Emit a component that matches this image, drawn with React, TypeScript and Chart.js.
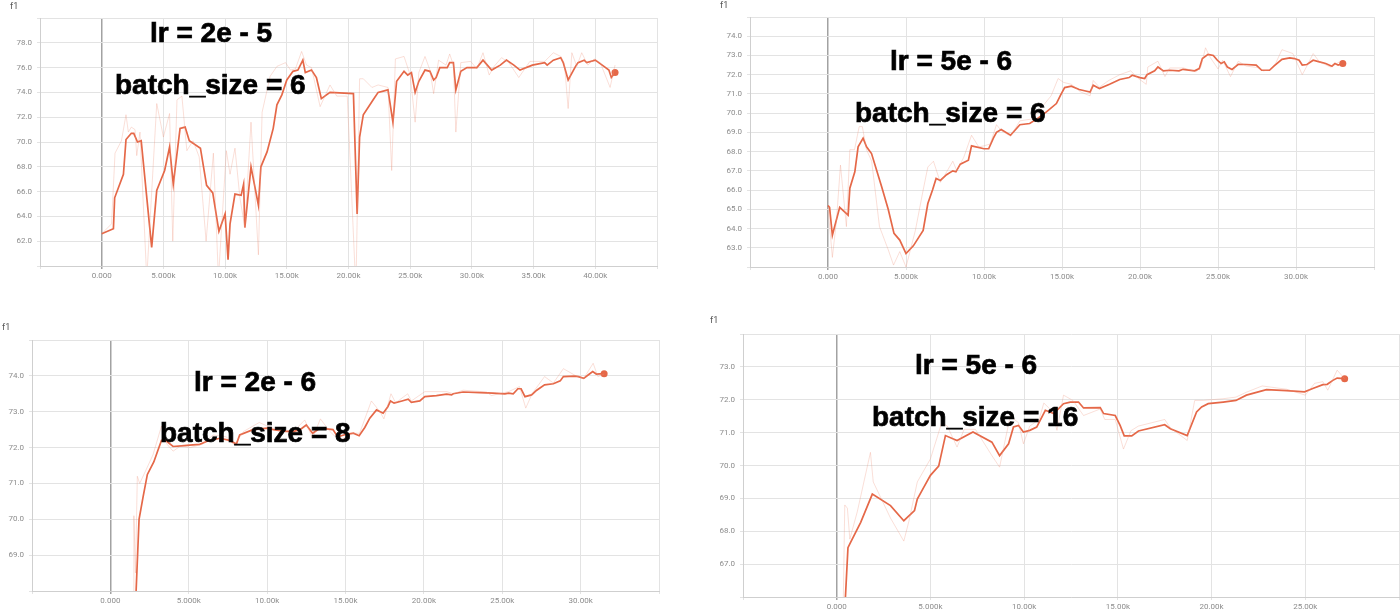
import React, { useEffect, useRef } from 'react';
import { Chart, registerables } from 'chart.js';

Chart.register(...registerables);

// ---------- data (x in thousands of steps, y = f1) ----------
// Top-left: lr = 2e-5, batch_size = 6
const tlSmoothX = [0, 0.95, 1.05, 1.76, 1.97, 2.4, 2.6, 2.9, 3.2, 4.05, 4.46, 5.1, 5.5, 5.8, 6.35, 6.76, 7.1, 8.0, 8.5, 9.0, 9.5, 10.0, 10.24, 10.4, 10.8, 11.3, 11.5, 11.6, 12.1, 12.7, 12.9, 13.4, 13.9, 14.2, 14.6, 15.0, 15.5, 15.9, 16.3, 16.5, 17.0, 17.4, 17.8, 18.5, 20.4, 20.7, 20.9, 21.2, 22.0, 22.4, 23.2, 23.6, 23.9, 24.5, 24.8, 25.1, 25.4, 25.7, 26.2, 26.6, 26.9, 27.1, 27.4, 28.0, 28.2, 28.5, 28.7, 29.1, 29.6, 30.4, 30.9, 31.6, 32.3, 32.8, 33.4, 33.9, 34.9, 35.9, 36.1, 36.6, 37.2, 37.4, 37.8, 38.4, 38.6, 39.1, 39.3, 40.0, 40.7, 41.1, 41.3, 41.6];
const tlSmoothY = [62.6, 63.0, 65.5, 67.4, 70.2, 70.7, 70.7, 70.0, 70.1, 61.5, 66.1, 67.7, 69.6, 66.6, 71.1, 71.2, 70.1, 69.5, 66.5, 65.9, 62.8, 64.2, 60.5, 63.4, 65.8, 65.7, 66.6, 63.1, 68.0, 64.9, 68.0, 69.2, 71.1, 73.0, 73.8, 75.0, 75.7, 75.8, 76.6, 75.6, 75.8, 75.2, 73.5, 74.0, 73.9, 64.2, 70.4, 72.2, 73.4, 74.0, 74.2, 71.6, 74.9, 75.7, 75.4, 75.6, 74.0, 74.9, 75.8, 75.7, 75.0, 75.2, 76.0, 76.0, 76.4, 76.4, 74.2, 75.7, 76.0, 76.0, 76.6, 75.8, 76.2, 76.6, 76.2, 75.8, 76.2, 76.4, 76.2, 76.6, 76.8, 76.4, 75.0, 76.1, 76.4, 76.6, 76.4, 76.6, 76.1, 75.8, 75.2, 75.6];
const tlRawX = [0, 0.8, 1.08, 1.6, 1.97, 2.16, 2.4, 2.7, 2.84, 3.1, 3.65, 4.46, 5.0, 5.5, 5.76, 6.1, 6.5, 6.9, 7.4, 7.9, 8.46, 9.05, 9.46, 10.1, 10.4, 10.8, 11.2, 11.6, 12.1, 12.7, 13.0, 13.65, 14.2, 14.9, 15.3, 15.7, 16.2, 16.6, 17.0, 17.7, 18.5, 19.05, 19.9, 20.6, 20.9, 21.2, 21.9, 22.4, 23.2, 23.5, 23.8, 24.5, 25.0, 25.4, 25.7, 26.2, 26.6, 26.9, 27.3, 27.9, 28.2, 28.5, 28.7, 29.1, 29.9, 30.4, 30.9, 31.4, 31.8, 32.4, 33.0, 33.8, 34.7, 35.9, 36.6, 37.2, 37.5, 37.8, 38.1, 38.5, 38.9, 39.4, 39.9, 40.4, 41.2, 41.6];
const tlRawY = [62.6, 63.4, 69.1, 70.1, 72.2, 70.8, 71.2, 71.0, 68.9, 70.8, 59.0, 73.1, 70.4, 72.3, 62.0, 73.4, 73.7, 69.3, 70.1, 68.8, 62.0, 69.1, 59.0, 69.3, 67.4, 69.5, 65.5, 63.1, 71.6, 60.9, 72.4, 75.3, 76.1, 76.4, 75.8, 75.9, 77.3, 76.2, 76.0, 72.85, 74.6, 73.7, 73.7, 58.0, 75.1, 75.1, 74.4, 74.6, 74.4, 67.7, 76.7, 76.9, 75.4, 71.6, 75.6, 76.9, 75.8, 73.9, 76.6, 76.2, 77.1, 76.2, 70.8, 76.4, 76.5, 75.9, 77.2, 75.4, 76.1, 76.8, 76.4, 75.2, 76.5, 76.5, 77.2, 76.9, 76.3, 72.7, 77.2, 76.1, 77.2, 76.2, 76.7, 76.4, 74.4, 76.2];

// Top-right: lr = 5e-6, batch_size = 6
const trSmoothX = [0, 0.1, 0.28, 0.75, 1.29, 1.4, 1.72, 1.93, 2.25, 2.47, 2.79, 3.43, 3.86, 4.23, 4.6, 5.0, 5.47, 6.1, 6.4, 6.7, 6.93, 7.2, 7.6, 8.0, 8.2, 8.48, 9.0, 9.2, 10.0, 10.3, 10.6, 10.8, 11.1, 11.7, 12.3, 12.93, 13.4, 14.0, 14.64, 14.9, 15.17, 15.6, 16.1, 16.8, 17.0, 17.4, 18.05, 18.7, 19.3, 19.5, 20.0, 20.3, 20.45, 20.94, 21.15, 21.5, 21.9, 22.5, 22.76, 23.5, 23.8, 24.0, 24.36, 24.7, 24.96, 25.2, 25.4, 25.6, 25.9, 26.3, 26.8, 27.45, 27.8, 28.3, 28.6, 29.1, 29.6, 29.9, 30.2, 30.4, 30.7, 31.1, 31.5, 31.9, 32.3, 32.5, 32.7, 33.0];
const trSmoothY = [65.2, 65.1, 63.65, 65.1, 64.7, 66.1, 66.95, 68.25, 68.7, 68.25, 67.9, 66.2, 65.0, 63.75, 63.4, 62.7, 63.1, 63.9, 65.3, 66.0, 66.6, 66.5, 66.8, 67.0, 66.95, 67.35, 67.55, 68.3, 68.15, 68.15, 68.7, 69.0, 69.15, 68.85, 69.4, 69.46, 69.7, 70.07, 70.5, 70.93, 71.33, 71.4, 71.23, 71.1, 71.45, 71.28, 71.5, 71.75, 71.85, 71.97, 71.85, 71.8, 72.0, 72.2, 72.4, 72.2, 72.23, 72.2, 72.28, 72.2, 72.32, 72.84, 73.06, 73.0, 72.75, 72.58, 72.67, 72.4, 72.27, 72.54, 72.53, 72.5, 72.23, 72.23, 72.46, 72.8, 72.87, 72.84, 72.75, 72.5, 72.53, 72.75, 72.67, 72.58, 72.44, 72.58, 72.5, 72.58];
const trRawX = [0, 0.28, 0.54, 0.8, 1.18, 1.4, 1.7, 2.0, 2.2, 2.47, 2.8, 3.3, 3.86, 4.2, 4.6, 5.0, 5.6, 6.1, 6.4, 6.76, 7.2, 7.5, 8.0, 8.26, 8.7, 9.2, 9.66, 10.0, 10.4, 10.8, 11.1, 11.7, 12.3, 13.1, 14.3, 14.75, 15.1, 15.6, 16.2, 16.8, 17.0, 17.4, 18.0, 18.7, 19.4, 19.9, 20.4, 20.5, 21.15, 21.6, 21.9, 22.8, 23.6, 23.9, 24.2, 24.5, 25.0, 25.3, 25.8, 26.3, 26.8, 27.7, 27.9, 28.3, 28.7, 29.1, 29.8, 30.4, 30.7, 31.1, 31.5, 32.2, 32.8];
const trRawY = [65.1, 62.5, 64.4, 67.3, 64.1, 68.1, 68.1, 69.3, 69.3, 68.1, 67.5, 64.1, 62.9, 62.1, 62.8, 62.0, 63.9, 66.0, 67.2, 67.5, 66.4, 66.8, 67.5, 67.0, 67.7, 68.85, 68.25, 68.3, 68.4, 69.4, 69.1, 68.8, 69.6, 69.7, 70.9, 71.8, 71.6, 71.5, 71.1, 70.9, 71.7, 71.35, 71.7, 72.0, 72.2, 71.8, 71.5, 72.4, 72.7, 71.9, 72.35, 72.35, 72.15, 72.4, 73.4, 72.9, 72.3, 72.75, 71.9, 72.7, 72.45, 72.35, 72.2, 72.25, 72.6, 73.3, 73.1, 72.0, 72.45, 73.1, 72.67, 72.4, 72.67];

// Bottom-left: lr = 2e-6, batch_size = 8
const blSmoothX = [1.5, 1.83, 2.09, 2.36, 2.77, 3.04, 3.26, 3.57, 4.0, 4.53, 5.06, 5.7, 6.13, 6.98, 7.6, 8.04, 8.25, 9.1, 10.0, 10.4, 11.2, 11.7, 12.1, 12.5, 12.9, 13.36, 14.2, 14.5, 15.06, 15.5, 15.87, 16.23, 16.55, 16.98, 17.4, 17.7, 17.87, 18.1, 18.6, 19.0, 19.2, 19.74, 20.06, 20.8, 21.45, 21.77, 21.87, 22.5, 23.57, 24.4, 25.17, 25.4, 25.7, 26.0, 26.2, 26.45, 26.87, 27.2, 27.7, 28.26, 28.7, 28.9, 29.64, 29.85, 30.2, 30.5, 30.77, 31.0, 31.5];
const blSmoothY = [66.5, 70.0, 70.63, 71.25, 71.6, 71.93, 72.2, 72.18, 72.03, 72.05, 72.07, 72.09, 72.17, 72.26, 72.2, 72.1, 72.35, 72.5, 72.54, 72.5, 72.45, 72.45, 72.5, 72.63, 72.4, 72.54, 72.5, 72.3, 72.37, 72.4, 72.33, 72.56, 72.82, 73.05, 72.96, 73.14, 73.3, 73.24, 73.3, 73.35, 73.26, 73.3, 73.42, 73.45, 73.49, 73.47, 73.5, 73.55, 73.53, 73.52, 73.5, 73.52, 73.5, 73.64, 73.64, 73.42, 73.47, 73.6, 73.75, 73.78, 73.86, 73.98, 73.99, 73.98, 73.93, 74.03, 74.12, 74.05, 74.06];
const blRawX = [1.45, 1.5, 1.6, 1.72, 1.87, 2.3, 2.72, 3.26, 3.6, 4.0, 4.5, 5.1, 5.9, 6.55, 7.4, 7.9, 8.5, 9.5, 10.0, 11.0, 11.8, 12.4, 12.9, 13.4, 14.0, 14.6, 15.5, 15.9, 16.65, 17.2, 17.45, 17.9, 18.2, 18.97, 19.2, 20.06, 21.45, 21.9, 22.5, 24.0, 24.3, 25.4, 26.1, 26.5, 26.9, 27.7, 28.26, 28.9, 29.7, 30.2, 30.8, 31.1, 31.5];
const blRawY = [66.0, 70.1, 68.5, 71.2, 71.0, 71.4, 71.8, 72.6, 72.1, 71.9, 72.05, 72.0, 72.1, 72.35, 72.3, 72.07, 72.45, 72.7, 72.6, 72.45, 72.5, 72.77, 72.26, 72.8, 72.45, 72.2, 72.4, 72.4, 73.3, 73.0, 72.8, 73.5, 73.25, 73.5, 73.3, 73.56, 73.56, 73.5, 73.6, 73.55, 73.45, 73.56, 73.7, 73.1, 73.5, 73.98, 73.8, 74.2, 74.0, 73.93, 74.35, 73.98, 74.05];

// Bottom-right: lr = 5e-6, batch_size = 16
const brSmoothX = [0.42, 0.6, 0.74, 1.28, 1.9, 2.87, 3.58, 4.15, 4.3, 4.65, 5.0, 5.44, 5.8, 6.42, 7.27, 8.28, 8.69, 9.17, 9.43, 9.7, 9.96, 10.3, 10.67, 11.13, 11.58, 12.1, 12.46, 12.9, 13.17, 14.06, 14.24, 14.86, 15.12, 15.34, 15.74, 16.1, 17.5, 17.8, 18.7, 19.2, 19.47, 19.82, 20.62, 21.3, 21.86, 22.93, 24.0, 24.96, 25.4, 25.94, 26.17, 26.47, 26.7, 27.1];
const brSmoothY = [65.5, 67.5, 67.66, 68.27, 69.13, 68.78, 68.32, 68.63, 68.98, 69.34, 69.7, 69.98, 70.91, 70.76, 71.02, 70.71, 70.3, 70.66, 71.17, 71.22, 71.02, 71.07, 71.17, 71.68, 71.58, 71.88, 71.93, 71.93, 71.75, 71.76, 71.58, 71.52, 71.22, 70.9, 70.9, 71.05, 71.24, 71.12, 70.91, 71.63, 71.78, 71.88, 71.93, 71.98, 72.14, 72.31, 72.28, 72.24, 72.34, 72.46, 72.47, 72.59, 72.66, 72.64];
const brRawX = [0.3, 0.43, 0.57, 0.7, 1.1, 1.8, 1.95, 2.87, 3.58, 3.85, 4.3, 5.0, 5.6, 5.9, 6.42, 6.8, 7.4, 8.28, 8.69, 9.0, 9.26, 9.7, 9.96, 10.3, 10.8, 11.05, 11.5, 11.75, 12.1, 12.6, 13.17, 14.06, 14.3, 14.86, 15.3, 15.7, 16.1, 17.5, 17.8, 18.7, 19.1, 19.55, 20.6, 21.3, 21.86, 22.7, 24.0, 25.0, 25.5, 25.94, 26.2, 26.7, 27.1];
const brRawY = [64.0, 68.8, 68.7, 67.76, 68.6, 70.4, 69.5, 68.4, 67.7, 68.3, 69.5, 70.2, 71.3, 71.2, 70.56, 71.1, 71.1, 70.3, 69.95, 70.8, 71.5, 71.3, 70.66, 71.2, 71.4, 71.9, 71.65, 71.07, 72.14, 71.98, 71.52, 71.72, 71.4, 71.4, 70.5, 71.06, 71.2, 71.4, 71.15, 70.76, 71.98, 71.98, 72.03, 72.08, 72.23, 72.42, 72.32, 72.14, 72.5, 72.55, 72.29, 72.9, 72.64];

// annotation labels
const lrLabels = ['lr = 2e - 5', 'lr = 5e - 6', 'lr = 2e - 6', 'lr = 5e - 6'];
const batchLabels = ['batch_size = 6', 'batch_size = 6', 'batch_size = 8', 'batch_size = 16'];
const yTitle = 'f1';

// ---------- styling ----------
const SMOOTH_COLOR = 'rgb(229, 104, 72)';
const RAW_COLOR = 'rgba(240, 150, 125, 0.3)';
const GRID_COLOR = '#e3e3e3';
const ZERO_COLOR = '#a2a2a2';
const TICK_FONT = { family: 'Roboto, "Liberation Sans", Arial, sans-serif', size: 8 };

function fmtStep(v: number): string {
  if (v === 0) return '0.000';
  return v < 10 ? v.toFixed(3) + 'k' : v.toFixed(2) + 'k';
}

type Rect = { L: number; T: number; R: number; B: number };

type PanelProps = {
  plot: Rect;
  xMax: number;
  yMin: number;
  yMax: number;
  yStep: number;
  sx: number[];
  sy: number[];
  rx: number[];
  ry: number[];
};

const AX_W = 40;
const PAD_T = 18;
const PAD_R = 12;
const AX_H = 24;

function Panel({ plot, xMax, yMin, yMax, yStep, sx, sy, rx, ry }: PanelProps) {
  const ref = useRef<HTMLCanvasElement>(null);
  const left = plot.L - AX_W;
  const top = plot.T - PAD_T;
  const width = plot.R + PAD_R - left;
  const height = plot.B + AX_H - top;

  useEffect(() => {
    const canvas = ref.current;
    if (!canvas) return;
    const smooth = sx.map((x, i) => ({ x, y: sy[i] }));
    const raw = rx.map((x, i) => ({ x, y: ry[i] }));
    const last = smooth.length - 1;
    const chart = new Chart(canvas, {
      type: 'line',
      data: {
        datasets: [
          {
            data: raw,
            borderColor: RAW_COLOR,
            borderWidth: 1,
            pointRadius: 0,
            tension: 0,
          },
          {
            data: smooth,
            borderColor: SMOOTH_COLOR,
            backgroundColor: SMOOTH_COLOR,
            borderWidth: 1.7,
            pointRadius: (c: any) => (c.dataIndex === last ? 3.5 : 0),
            pointBorderWidth: 0,
            pointBackgroundColor: SMOOTH_COLOR,
            tension: 0,
          },
        ],
      },
      options: {
        responsive: false,
        animation: false,
        events: [],
        layout: { padding: { top: PAD_T, right: PAD_R, left: 0, bottom: 0 } },
        plugins: { legend: { display: false }, tooltip: { enabled: false }, title: { display: false } },
        scales: {
          x: {
            type: 'linear',
            min: -5,
            max: xMax,
            afterFit: (s: any) => {
              s.height = AX_H;
            },
            ticks: {
              stepSize: 5,
              autoSkip: false,
              maxRotation: 0,
              maxTicksLimit: 100,
              padding: 2,
              color: '#8c8c8c',
              font: TICK_FONT,
              callback: (v: any) => {
                const n = Number(v);
                return n < 0 || n > xMax - 5 + 0.001 ? '' : fmtStep(n);
              },
            },
            grid: {
              color: (c: any) => (c.tick && c.tick.value === 0 ? ZERO_COLOR : GRID_COLOR),
              lineWidth: (c: any) => (c.tick && c.tick.value === 0 ? 1.5 : 1),
              tickLength: 3,
              drawTicks: true,
            },
            border: { color: '#cfcfcf' },
          },
          y: {
            type: 'linear',
            min: yMin,
            max: yMax,
            afterFit: (s: any) => {
              s.width = AX_W;
            },
            ticks: {
              stepSize: yStep,
              autoSkip: false,
              maxTicksLimit: 100,
              padding: 5,
              color: '#8c8c8c',
              font: TICK_FONT,
              callback: (v: any) => {
                const n = Number(v);
                return Math.abs(n - yMin) < 1e-6 || Math.abs(n - yMax) < 1e-6 ? '' : n.toFixed(1);
              },
            },
            grid: {
              color: GRID_COLOR,
              tickLength: 3,
              drawTicks: true,
            },
            border: { color: '#cfcfcf' },
          },
        },
      },
    } as any);
    return () => chart.destroy();
  }, []);

  return (
    <canvas
      ref={ref}
      width={width}
      height={height}
      style={{ position: 'absolute', left, top, width, height }}
    />
  );
}

const BIG_FONT = 'bold 28px "Liberation Sans", Arial, Helvetica, sans-serif';

function Label({ text, x, baseline }: { text: string; x: number; baseline: number }) {
  return (
    <div
      style={{
        position: 'absolute',
        left: x,
        top: baseline - 24,
        font: BIG_FONT,
        lineHeight: '28px',
        color: '#000',
        whiteSpace: 'nowrap',
        WebkitTextStroke: '0.7px #000',
      }}
    >
      {text}
    </div>
  );
}

function Title({ x, cy }: { x: number; cy: number }) {
  return (
    <div
      style={{
        position: 'absolute',
        left: x,
        top: cy - 5,
        fontFamily: 'Roboto, "Liberation Sans", Arial, sans-serif',
        fontSize: 9,
        lineHeight: '10px',
        color: '#555',
      }}
    >
      {yTitle}
    </div>
  );
}

export default function App() {
  return (
    <div
      style={{
        position: 'fixed',
        left: 0,
        top: 0,
        width: 1400,
        height: 612,
        overflow: 'hidden',
        background: '#fff',
      }}
    >
      <Panel plot={{ L: 40, T: 18, R: 657, B: 266 }} xMax={45} yMin={60} yMax={80} yStep={2} sx={tlSmoothX} sy={tlSmoothY} rx={tlRawX} ry={tlRawY} />
      <Panel plot={{ L: 750, T: 17, R: 1374, B: 267 }} xMax={35} yMin={62} yMax={75} yStep={1} sx={trSmoothX} sy={trSmoothY} rx={trRawX} ry={trRawY} />
      <Panel plot={{ L: 32, T: 340, R: 659, B: 591 }} xMax={35} yMin={68} yMax={75} yStep={1} sx={blSmoothX} sy={blSmoothY} rx={blRawX} ry={blRawY} />
      <Panel plot={{ L: 743, T: 334, R: 1399, B: 597 }} xMax={30} yMin={66} yMax={74} yStep={1} sx={brSmoothX} sy={brSmoothY} rx={brRawX} ry={brRawY} />

      <Title x={10} cy={6} />
      <Title x={720} cy={5} />
      <Title x={2} cy={327} />
      <Title x={710} cy={320} />

      <Label text={lrLabels[0]} x={150} baseline={43} />
      <Label text={batchLabels[0]} x={115} baseline={95} />
      <Label text={lrLabels[1]} x={890} baseline={71} />
      <Label text={batchLabels[1]} x={855} baseline={123} />
      <Label text={lrLabels[2]} x={194} baseline={392} />
      <Label text={batchLabels[2]} x={160} baseline={443} />
      <Label text={lrLabels[3]} x={915} baseline={375} />
      <Label text={batchLabels[3]} x={872} baseline={427} />
    </div>
  );
}
